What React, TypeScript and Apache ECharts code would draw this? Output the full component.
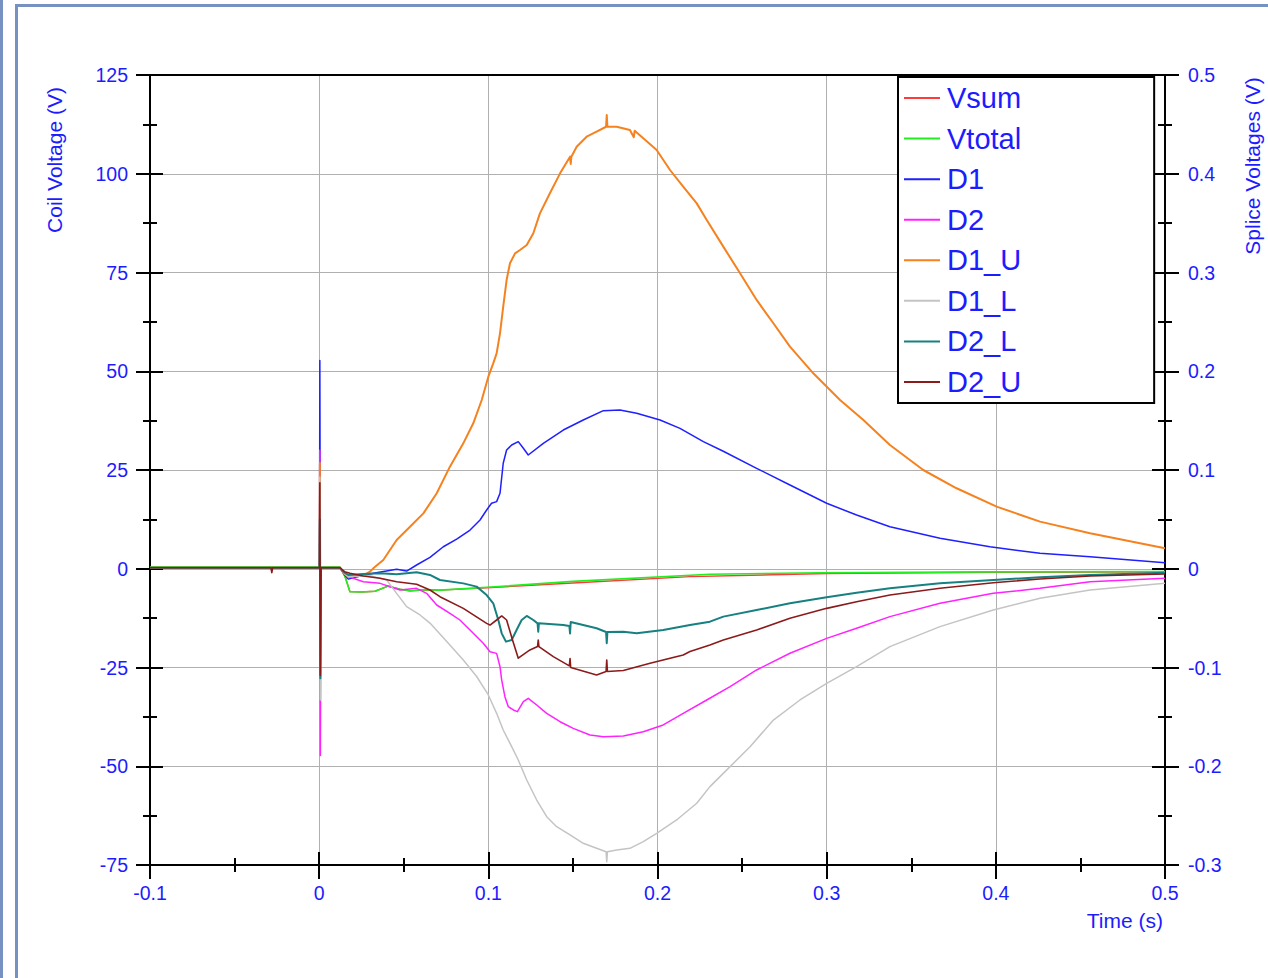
import React, { useEffect, useRef } from "react";
import * as echarts from "echarts";

type P = [number, number];

// Axis ranges
const timeRange = [-0.1, 0.5];
const coilRange = [-75, 125];
const spliceRange = [-0.3, 0.5];

const seriesNames = ["Vsum", "Vtotal", "D1", "D2", "D1_U", "D1_L", "D2_L", "D2_U"];
const seriesColors = ["#ff3a3a", "#22ee22", "#1f1fff", "#ff22ff", "#f5821f", "#c4c4c4", "#178080", "#8b1a1a"];
const seriesWidths = [1.4, 1.6, 1.5, 1.5, 2, 1.5, 2, 1.6];

// Coil voltages (V), left axis
const Vsum: P[] = [
  [-0.1, 0.4], [0.0123, 0.4], [0.0153, -2.0], [0.0182, -5.8], [0.025, -5.9], [0.033, -5.7],
  [0.0407, -4.4], [0.0478, -5.2], [0.0537, -5.6], [0.062, -5.3], [0.0714, -5.4], [0.0992, -4.8],
  [0.15, -3.6], [0.2192, -2.0], [0.3002, -1.2], [0.4, -0.9], [0.5, -0.75],
];
const Vtotal: P[] = [
  [-0.1, 0.4], [0.0123, 0.4], [0.0153, -2.0], [0.0182, -5.8], [0.025, -5.9], [0.033, -5.7],
  [0.0407, -4.4], [0.0478, -5.2], [0.0537, -5.6], [0.062, -5.3], [0.0714, -5.4], [0.0992, -4.7],
  [0.15, -3.2], [0.231, -1.4], [0.296, -1.0], [0.4, -0.8], [0.5, -0.7],
];

// Splice voltages (V), right axis
const D1: P[] = [
  [-0.1, 0.001], [0.0002, 0.001], [0.0004, 0.211], [0.0007, -0.03], [0.0011, 0.001], [0.0123, 0.001],
  [0.015, -0.006], [0.0172, -0.0105], [0.025, -0.007], [0.032, -0.0045], [0.0458, -0.0005], [0.0517, -0.0023],
  [0.0576, 0.0038], [0.0655, 0.0115], [0.0734, 0.0223], [0.0813, 0.03], [0.0892, 0.0392], [0.0951, 0.0494],
  [0.099, 0.0595], [0.1019, 0.0663], [0.1049, 0.068], [0.1069, 0.0764], [0.1088, 0.1068], [0.1108, 0.1203],
  [0.1138, 0.1253], [0.1177, 0.1287], [0.1207, 0.122], [0.1236, 0.1152], [0.1325, 0.127], [0.1443, 0.1405],
  [0.1561, 0.1506], [0.168, 0.1601], [0.1778, 0.1608], [0.1877, 0.1574], [0.2015, 0.1506], [0.2133, 0.1422],
  [0.2271, 0.1287], [0.2389, 0.119], [0.2586, 0.1017], [0.2783, 0.0848], [0.3, 0.0663], [0.3177, 0.0544],
  [0.3374, 0.0426], [0.367, 0.0308], [0.3965, 0.0223], [0.4261, 0.0156], [0.4557, 0.0122], [0.5, 0.006],
];
const D2: P[] = [
  [-0.1, 0.001], [0.0002, 0.001], [0.0004, 0.12], [0.0007, -0.189], [0.0011, 0.001], [0.0123, 0.001],
  [0.015, -0.005], [0.0172, -0.008], [0.0261, -0.0131], [0.036, -0.0148], [0.0478, -0.0215], [0.0576, -0.0198],
  [0.0635, -0.0249], [0.0695, -0.0367], [0.0773, -0.0451], [0.0832, -0.0519], [0.0911, -0.0654], [0.097, -0.0755],
  [0.101, -0.084], [0.1049, -0.0857], [0.1069, -0.0992], [0.1079, -0.1127], [0.1098, -0.1296], [0.1118, -0.1397],
  [0.1148, -0.143], [0.1172, -0.1447], [0.1207, -0.1346], [0.1236, -0.1312], [0.1286, -0.138], [0.1345, -0.1464],
  [0.1424, -0.1549], [0.1502, -0.1616], [0.1601, -0.1684], [0.168, -0.1701], [0.1798, -0.1694], [0.1916, -0.165],
  [0.2034, -0.1582], [0.2152, -0.1464], [0.2291, -0.1329], [0.2429, -0.1194], [0.2586, -0.1025], [0.2783, -0.0856],
  [0.3, -0.0705], [0.3177, -0.0603], [0.3374, -0.0485], [0.367, -0.035], [0.3985, -0.0249], [0.4261, -0.0198],
  [0.4557, -0.0131], [0.5, -0.0097],
];
const D1_U: P[] = [
  [-0.1, 0.001], [0.0002, 0.001], [0.0004, 0.107], [0.0007, -0.05], [0.0011, 0.001], [0.0123, 0.001],
  [0.015, -0.005], [0.0172, -0.008], [0.027, -0.006], [0.03, -0.003], [0.032, 0.0004], [0.0379, 0.0089],
  [0.0458, 0.0291], [0.0537, 0.0426], [0.0616, 0.0561], [0.0695, 0.0764], [0.0773, 0.1034], [0.0852, 0.127],
  [0.0911, 0.1473], [0.0961, 0.1709], [0.1, 0.1945], [0.1029, 0.208], [0.1049, 0.2181], [0.1069, 0.2384],
  [0.1088, 0.2654], [0.1108, 0.2924], [0.1128, 0.3093], [0.1158, 0.3194], [0.1187, 0.3228], [0.1227, 0.3278],
  [0.1266, 0.3397], [0.1305, 0.3599], [0.1364, 0.3802], [0.1424, 0.4004], [0.1483, 0.4173], [0.1487, 0.41],
  [0.1491, 0.4173], [0.1522, 0.4274], [0.1581, 0.4375], [0.164, 0.4426], [0.1696, 0.4476], [0.17, 0.4595],
  [0.1704, 0.4476], [0.1759, 0.4476], [0.1837, 0.4443], [0.186, 0.437], [0.1865, 0.4435], [0.1916, 0.4359],
  [0.1995, 0.424], [0.2074, 0.4038], [0.2152, 0.3869], [0.2232, 0.37], [0.2291, 0.3532], [0.2389, 0.3262],
  [0.2488, 0.2992], [0.2586, 0.2722], [0.2685, 0.2486], [0.2783, 0.2249], [0.2921, 0.1979], [0.3079, 0.1709],
  [0.3217, 0.1506], [0.3374, 0.1253], [0.3571, 0.1], [0.3768, 0.0815], [0.4005, 0.0629], [0.4261, 0.0477],
  [0.4557, 0.0359], [0.5, 0.0207],
];
const D1_L: P[] = [
  [-0.1, 0.001], [0.0002, 0.001], [0.0004, 0.093], [0.0007, -0.133], [0.0011, 0.001], [0.0123, 0.001],
  [0.015, -0.005], [0.0172, -0.008], [0.03, -0.007], [0.0399, -0.0114], [0.0458, -0.0249], [0.0517, -0.0384],
  [0.0596, -0.0468], [0.0655, -0.055], [0.0754, -0.0736], [0.0852, -0.0924], [0.0931, -0.1091], [0.1, -0.1278],
  [0.1049, -0.1464], [0.1088, -0.1633], [0.1138, -0.1802], [0.1177, -0.1937], [0.1227, -0.2139], [0.1286, -0.2342],
  [0.1345, -0.2511], [0.1404, -0.2612], [0.1483, -0.2696], [0.1561, -0.278], [0.164, -0.2831], [0.1696, -0.2865],
  [0.17, -0.2966], [0.1704, -0.2865], [0.1759, -0.2848], [0.1837, -0.2831], [0.1916, -0.2764], [0.1995, -0.2679],
  [0.2113, -0.2544], [0.2232, -0.2375], [0.231, -0.2206], [0.2429, -0.2004], [0.2547, -0.1802], [0.2685, -0.1532],
  [0.2842, -0.1329], [0.3, -0.116], [0.3177, -0.0992], [0.3374, -0.0789], [0.367, -0.0586], [0.3985, -0.0418],
  [0.4261, -0.0299], [0.4557, -0.0215], [0.5, -0.0148],
];
const D2_L: P[] = [
  [-0.1, 0.001], [0.0002, 0.001], [0.0004, 0.05], [0.0007, -0.111], [0.0011, 0.001], [0.0123, 0.001],
  [0.015, -0.004], [0.0172, -0.0063], [0.0261, -0.0053], [0.036, -0.0046], [0.0458, -0.0056], [0.0576, -0.0036],
  [0.0655, -0.0063], [0.0714, -0.0114], [0.0852, -0.0148], [0.0931, -0.0181], [0.099, -0.0266], [0.1029, -0.035],
  [0.1059, -0.0519], [0.1079, -0.0654], [0.1104, -0.0738], [0.1138, -0.0722], [0.1167, -0.062], [0.1197, -0.0519],
  [0.1227, -0.0478], [0.1266, -0.0519], [0.1291, -0.0553], [0.1295, -0.0637], [0.1299, -0.0553], [0.1443, -0.057],
  [0.1479, -0.058], [0.1483, -0.0655], [0.1487, -0.054], [0.164, -0.0603], [0.1696, -0.064], [0.17, -0.0755],
  [0.1704, -0.064], [0.1798, -0.0637], [0.1877, -0.0654], [0.2034, -0.062], [0.2192, -0.057], [0.231, -0.0536],
  [0.2389, -0.0485], [0.2586, -0.0418], [0.2783, -0.035], [0.3, -0.0289], [0.3177, -0.0242], [0.3374, -0.0198],
  [0.367, -0.0148], [0.3985, -0.0114], [0.4261, -0.0087], [0.4557, -0.0063], [0.5, -0.004],
];
const D2_U: P[] = [
  [-0.1, 0.001], [-0.0285, 0.001], [-0.028, -0.004], [-0.0275, 0.001], [0.0002, 0.001], [0.0004, 0.087],
  [0.0007, -0.108], [0.0011, 0.001], [0.0123, 0.001],
  [0.015, -0.003], [0.0182, -0.0046], [0.0261, -0.0073], [0.036, -0.0097], [0.0458, -0.0131], [0.0576, -0.0157],
  [0.0655, -0.0215], [0.0714, -0.0283], [0.0852, -0.0401], [0.099, -0.0553], [0.101, -0.057], [0.1049, -0.0519],
  [0.1079, -0.0478], [0.1108, -0.0519], [0.1143, -0.0722], [0.1177, -0.0906], [0.1246, -0.0822], [0.1291, -0.0788],
  [0.1295, -0.0722], [0.1299, -0.0788], [0.1384, -0.089], [0.1479, -0.0984], [0.1483, -0.091], [0.1487, -0.1],
  [0.164, -0.1075], [0.1696, -0.1041], [0.17, -0.0924], [0.1704, -0.1041], [0.1798, -0.103], [0.1956, -0.0957],
  [0.2152, -0.0873], [0.2192, -0.0838], [0.231, -0.0772], [0.2389, -0.0722], [0.2586, -0.062], [0.2783, -0.0502],
  [0.3, -0.0401], [0.3177, -0.0334], [0.3374, -0.0266], [0.367, -0.0198], [0.3985, -0.0141], [0.4261, -0.0104],
  [0.4557, -0.0073], [0.5, -0.0053],
];

const seriesData = [Vsum, Vtotal, D1, D2, D1_U, D1_L, D2_L, D2_U];
const seriesAxis = [0, 0, 1, 1, 1, 1, 1, 1];

const BLUE = "#1c1cff";
const FONT = "'Liberation Sans', Arial, sans-serif";
const FRAME = "#7691c2";

export default function App() {
  const ref = useRef<HTMLDivElement>(null);
  useEffect(() => {
    if (!ref.current) return;
    const chart = echarts.init(ref.current, undefined, { renderer: "svg" });
    const black = { color: "#000", width: 2 };
    const grey = { color: "#b0b0b0", width: 1 };
    const label = { color: BLUE, fontSize: 19.5, fontFamily: FONT };
    const xBase = { type: "value", min: timeRange[0], max: timeRange[1], interval: 0.1, gridIndex: 0 };
    const yL = { type: "value", min: coilRange[0], max: coilRange[1], interval: 25 };
    const yR = { type: "value", min: spliceRange[0], max: spliceRange[1], interval: 0.1 };
    const option: any = {
      animation: false,
      backgroundColor: "#fff",
      grid: { left: 150, top: 75, width: 1015, height: 790, containLabel: false },
      xAxis: [
        {
          ...xBase, position: "bottom",
          axisLine: { show: true, onZero: false, lineStyle: black },
          axisTick: { show: true, length: 14, lineStyle: black },
          minorTick: { show: true, splitNumber: 2, length: 7, lineStyle: black },
          axisLabel: { ...label, margin: 18 },
          splitLine: { show: true, lineStyle: grey },
        },
        {
          ...xBase, position: "bottom",
          axisLine: { show: false, onZero: false },
          axisTick: { show: true, inside: true, length: 13, lineStyle: black },
          minorTick: { show: true, splitNumber: 2, length: 7, lineStyle: black },
          axisLabel: { show: false },
          splitLine: { show: false },
        },
        {
          ...xBase, position: "top",
          axisLine: { show: true, onZero: false, lineStyle: black },
          axisTick: { show: false },
          axisLabel: { show: false },
          splitLine: { show: false },
        },
      ],
      yAxis: [
        {
          ...yL, position: "left",
          axisLine: { show: true, onZero: false, lineStyle: black },
          axisTick: { show: true, length: 14, lineStyle: black },
          minorTick: { show: true, splitNumber: 2, length: 7, lineStyle: black },
          axisLabel: { ...label, margin: 22 },
          splitLine: { show: true, lineStyle: grey },
        },
        {
          ...yR, position: "right",
          axisLine: { show: true, onZero: false, lineStyle: black },
          axisTick: { show: true, length: 14, lineStyle: black },
          minorTick: { show: true, splitNumber: 2, length: 7, lineStyle: black },
          axisLabel: { ...label, margin: 23 },
          splitLine: { show: false },
        },
        {
          ...yL, position: "left",
          axisLine: { show: false, onZero: false },
          axisTick: { show: true, inside: true, length: 13, lineStyle: black },
          minorTick: { show: true, splitNumber: 2, length: 7, lineStyle: black },
          axisLabel: { show: false },
          splitLine: { show: false },
        },
        {
          ...yR, position: "right",
          axisLine: { show: false, onZero: false },
          axisTick: { show: true, inside: true, length: 13, lineStyle: black },
          minorTick: { show: true, splitNumber: 2, length: 7, lineStyle: black },
          axisLabel: { show: false },
          splitLine: { show: false },
        },
      ],
      legend: {
        show: true,
        orient: "vertical",
        left: 898,
        top: 77,
        data: seriesNames,
        icon: "rect",
        itemWidth: 36,
        itemHeight: 2,
        itemGap: 10.57,
        itemStyle: { borderWidth: 0 },
        padding: [6, 133, 6, 6],
        backgroundColor: "#fff",
        borderColor: "#000",
        borderWidth: 2,
        borderRadius: 0,
        textStyle: { color: BLUE, fontSize: 29, lineHeight: 30, fontFamily: FONT, padding: [0, 0, 0, 2] },
        selectedMode: false,
      },
      series: seriesNames.map((name, i) => ({
        name,
        type: "line",
        xAxisIndex: 0,
        yAxisIndex: seriesAxis[i],
        data: seriesData[i],
        color: seriesColors[i],
        symbol: "none",
        showSymbol: false,
        lineStyle: { color: seriesColors[i], width: seriesWidths[i], join: "round" },
        emphasis: { disabled: true },
        z: 2 + i * 0.01,
      })),
      graphic: [
        { type: "rect", shape: { x: 0, y: 0, width: 3, height: 978 }, style: { fill: FRAME } },
        { type: "rect", shape: { x: 15, y: 4, width: 3, height: 974 }, style: { fill: FRAME } },
        { type: "rect", shape: { x: 15, y: 4, width: 1253, height: 3 }, style: { fill: FRAME } },
        {
          type: "text", x: 54, y: 160, rotation: Math.PI / 2,
          style: { text: "Coil Voltage (V)", fill: BLUE, fontSize: 21, fontFamily: FONT, align: "center", verticalAlign: "middle" },
        },
        {
          type: "text", x: 1252, y: 166, rotation: Math.PI / 2,
          style: { text: "Splice Voltages (V)", fill: BLUE, fontSize: 21, fontFamily: FONT, align: "center", verticalAlign: "middle" },
        },
        {
          type: "text", x: 1163, y: 920,
          style: { text: "Time (s)", fill: BLUE, fontSize: 21, fontFamily: FONT, align: "right", verticalAlign: "middle" },
        },
      ],
    };
    chart.setOption(option);
    return () => chart.dispose();
  }, []);
  return (
    <div
      ref={ref}
      style={{ position: "fixed", left: 0, top: 0, width: 1268, height: 978, background: "#fff" }}
    />
  );
}
